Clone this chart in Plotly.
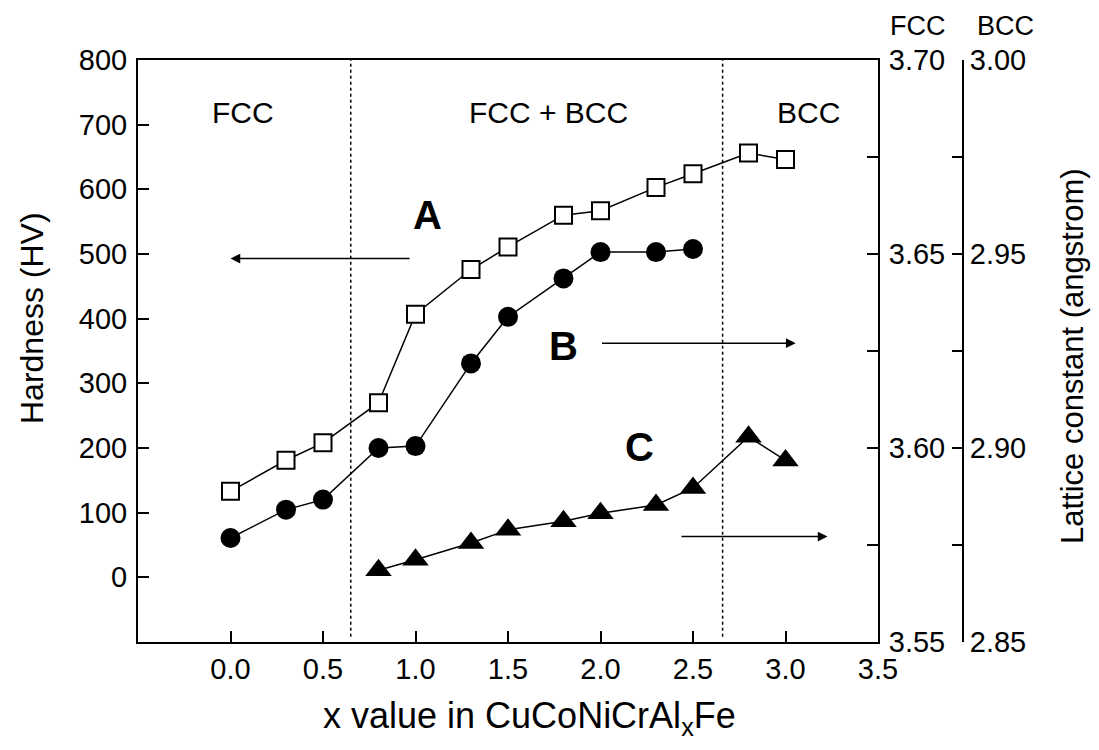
import plotly.graph_objects as go

# ---------------- data ----------------
x_hard = [0.0, 0.3, 0.5, 0.8, 1.0, 1.3, 1.5, 1.8, 2.0, 2.3, 2.5, 2.8, 3.0]
hardness = [133, 181, 208, 270, 407, 476, 511, 560, 567, 603, 624, 656, 646]

x_fcc = [0.0, 0.3, 0.5, 0.8, 1.0, 1.3, 1.5, 1.8, 2.0, 2.3, 2.5]
fcc_lattice = [3.5768, 3.5841, 3.5867, 3.6000, 3.6005, 3.6218, 3.6338, 3.6437, 3.6505, 3.6505, 3.6513]

x_bcc = [0.8, 1.0, 1.3, 1.5, 1.8, 2.0, 2.3, 2.5, 2.8, 3.0]
bcc_lattice = [2.8685, 2.8712, 2.8755, 2.8789, 2.8811, 2.8832, 2.8853, 2.8897, 2.9029, 2.8968]

x_ticks = [0.0, 0.5, 1.0, 1.5, 2.0, 2.5, 3.0, 3.5]
x_ticktext = ["0.0", "0.5", "1.0", "1.5", "2.0", "2.5", "3.0", "3.5"]
hv_ticks = [0, 100, 200, 300, 400, 500, 600, 700, 800]
fcc_ticks = [3.55, 3.575, 3.60, 3.625, 3.65, 3.675, 3.70]
fcc_ticktext = ["3.55", "", "3.60", "", "3.65", "", "3.70"]
bcc_ticks = [2.85, 2.875, 2.90, 2.925, 2.95, 2.975, 3.00]
bcc_ticktext = ["2.85", "", "2.90", "", "2.95", "", "3.00"]
phase_bounds = [0.65, 2.66]

FONT = "Liberation Sans, Arial, sans-serif"
TICKF = dict(family=FONT, size=29, color="black")

fig = go.Figure()

fig.add_trace(go.Scatter(
    x=x_hard, y=hardness, mode="lines+markers", yaxis="y",
    line=dict(color="black", width=1.5),
    marker=dict(symbol="square", size=17, color="white", line=dict(color="black", width=2)),
    showlegend=False))

fig.add_trace(go.Scatter(
    x=x_fcc, y=fcc_lattice, mode="lines+markers", yaxis="y2",
    line=dict(color="black", width=1.5),
    marker=dict(symbol="circle", size=20, color="black"),
    showlegend=False))

fig.add_trace(go.Scatter(
    x=x_bcc, y=bcc_lattice, mode="lines+markers", yaxis="y3",
    line=dict(color="black", width=1.5),
    marker=dict(symbol="triangle-up", size=23, color="black"),
    showlegend=False))

# page has an 8px body margin: figure is 1083x734 placed at (8, 8)
PW = 901.0   # paper width in px (page x 138 .. 1039)
PH = 582.0   # plot height in px (page y 60 .. 642)


def px(page_x):
    return (page_x - 138) / PW


def py(page_y):
    return (642 - page_y) / PH


fig.update_layout(
    width=1083, height=734,
    margin=dict(l=130, r=52, t=52, b=100),
    paper_bgcolor="white", plot_bgcolor="white",
    font=dict(family=FONT, color="black"),
    xaxis=dict(domain=[0, 740 / PW], range=[-0.5, 3.5], tickvals=x_ticks, ticktext=x_ticktext,
               ticks="inside", ticklen=11, tickwidth=1.5, tickcolor="black",
               showline=True, linecolor="black", linewidth=2, mirror=True,
               showgrid=False, zeroline=False, tickfont=TICKF, ticklabelstandoff=0),
    yaxis=dict(range=[-100, 800], tickvals=hv_ticks,
               ticks="inside", ticklen=11, tickwidth=1.5, tickcolor="black",
               showline=True, linecolor="black", linewidth=2,
               showgrid=False, zeroline=False, tickfont=TICKF, ticklabelstandoff=3),
    yaxis2=dict(range=[3.55, 3.70], overlaying="y", side="right", anchor="x",
                tickvals=fcc_ticks, ticktext=fcc_ticktext,
                ticks="inside", ticklen=11, tickwidth=1.5, tickcolor="black",
                showline=True, linecolor="black", linewidth=2,
                showgrid=False, zeroline=False, tickfont=TICKF, ticklabelstandoff=3),
    yaxis3=dict(range=[2.85, 3.00], overlaying="y", side="right", anchor="free",
                position=px(963),
                tickvals=bcc_ticks, ticktext=bcc_ticktext,
                ticks="inside", ticklen=10, tickwidth=1.5, tickcolor="black",
                showline=True, linecolor="black", linewidth=2,
                showgrid=False, zeroline=False, tickfont=TICKF, ticklabelstandoff=0),
)

# phase boundaries
for xb in phase_bounds:
    fig.add_shape(type="line", xref="x", yref="y", x0=xb, x1=xb, y0=-92, y1=800,
                  line=dict(color="black", width=1.5, dash="dot"))

anns = []
# phase labels
for txt, xv in [("FCC", 0.07), ("FCC + BCC", 1.72), ("BCC", 3.125)]:
    anns.append(dict(text=txt, x=xv, y=719, xref="x", yref="y", showarrow=False,
                     xanchor="center", yanchor="middle",
                     font=dict(family=FONT, size=30, color="black")))
# curve labels
for txt, xv, yv in [("A", 1.067, 560), ("B", 1.80, 358), ("C", 2.212, 202)]:
    anns.append(dict(text="<b>" + txt + "</b>", x=xv, y=yv, xref="x", yref="y", showarrow=False,
                     xanchor="center", yanchor="middle",
                     font=dict(family=FONT, size=40, color="black")))
# arrows
for (hx, hy, tx) in [(0.0, 493, 0.976), (3.055, 362, 2.0), (3.227, 63, 2.43)]:
    anns.append(dict(text="", x=hx, y=hy, ax=tx, ay=hy, xref="x", yref="y", axref="x", ayref="y",
                     showarrow=True, arrowhead=2, arrowsize=1.3, arrowwidth=1.5, arrowcolor="black"))
# headers over right axes
for txt, xx in [("FCC", 918), ("BCC", 1005)]:
    anns.append(dict(text=txt, x=px(xx), y=py(9), xref="paper", yref="paper",
                     xanchor="center", yanchor="top", showarrow=False,
                     font=dict(family=FONT, size=27, color="black")))
# axis titles
anns.append(dict(text="x value in CuCoNiCrAl<sub>x</sub>Fe", x=px(529), y=py(718),
                 xref="paper", yref="paper", xanchor="center", yanchor="middle", showarrow=False,
                 font=dict(family=FONT, size=36, color="black")))
anns.append(dict(text="Hardness (HV)", x=px(32), y=py(318), textangle=-90,
                 xref="paper", yref="paper", xanchor="center", yanchor="middle", showarrow=False,
                 font=dict(family=FONT, size=32, color="black")))
anns.append(dict(text="Lattice constant (angstrom)", x=px(1072), y=py(356), textangle=-90,
                 xref="paper", yref="paper", xanchor="center", yanchor="middle", showarrow=False,
                 font=dict(family=FONT, size=31, color="black")))
fig.update_layout(annotations=anns)

fig.write_html("out.html")
